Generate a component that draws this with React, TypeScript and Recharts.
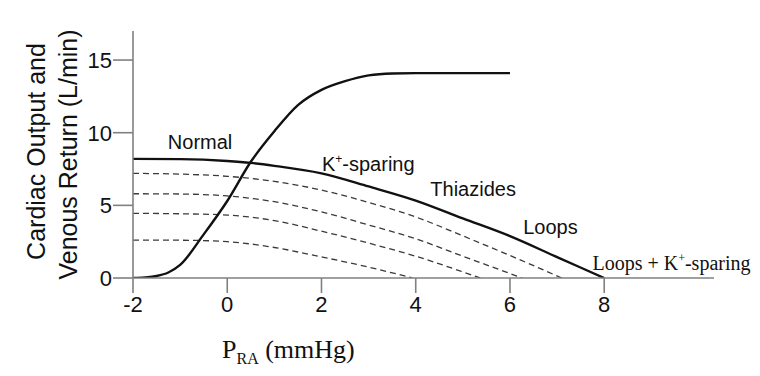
import { LineChart, Line, XAxis, YAxis, ReferenceDot, ReferenceLine } from "recharts";

// Right atrial pressure (mmHg) vs flow (L/min)
const cardiacOutput: [number, number][] = [
  [-2, 0], [-1.75, 0.04], [-1.5, 0.14], [-1.25, 0.38], [-1, 0.9], [-0.5, 3.0], [0, 5.3], [0.5, 8.0], [1, 10.1],
  [1.5, 11.9], [2, 12.95], [2.5, 13.55], [3, 13.95], [3.5, 14.08], [4, 14.1], [5, 14.1], [6, 14.1],
];
const normalReturn: [number, number][] = [
  [-2, 8.2], [-1, 8.18], [0, 8.05], [0.5, 7.92], [1, 7.72], [2, 7.2], [3, 6.3],
  [4, 5.33], [5, 4.1], [6, 2.88], [7, 1.44], [8, 0],
];
const kSparingReturn: [number, number][] = [
  [-2, 7.2], [-1, 7.15], [0, 7.0], [1, 6.65], [2, 6.05], [3, 5.2], [4, 4.2], [5, 2.9], [6, 1.55], [7.1, 0],
];
const thiazideReturn: [number, number][] = [
  [-2, 5.8], [-1, 5.78], [0, 5.65], [1, 5.25], [2, 4.55], [3, 3.65], [4, 2.7], [5, 1.5], [6.26, 0],
];
const loopReturn: [number, number][] = [
  [-2, 4.45], [-1, 4.42], [0, 4.33], [1, 3.95], [2, 3.22], [3, 2.4], [4, 1.5], [5, 0.42], [5.37, 0],
];
const loopKReturn: [number, number][] = [
  [-2, 2.6], [-1, 2.6], [0, 2.5], [1, 2.1], [2, 1.45], [3, 0.75], [3.93, 0],
];

const xTicks = [-2, 0, 2, 4, 6, 8];
const yTicks = [0, 5, 10, 15];

// curve annotations: [pressure, flow, text]
const sansNotes: [number, number, string][] = [
  [-1.26, 8.85, "Normal"],
  [4.31, 5.67, "Thiazides"],
  [6.28, 3.04, "Loops"],
];

const toPoints = (pts: [number, number][]) => pts.map(([x, y]) => ({ x, y }));

const sans = "'Liberation Sans', Arial, Helvetica, sans-serif";
const serif = "'Liberation Serif', 'Times New Roman', serif";
const axisGrey = "#808080";
const axisStroke = { stroke: axisGrey, strokeWidth: 1.6 };
const X_TICK_LEN = 15;
const X_TICK_GAP = 3;
// tick marks hang below the x axis by this much, in flow units
const X_TICK_DROP = 1.03;

const dashedProps = {
  type: "monotone" as const,
  dataKey: "y",
  stroke: "#3a3a3a",
  strokeWidth: 1.3,
  strokeDasharray: "6 4",
  dot: false,
  isAnimationActive: false,
};

const YTitle = (props: any) => {
  const { x, y, width, height } = props.viewBox;
  const right = x + width;
  const cy = y + height / 2;
  return (
    <g fontFamily={sans} fontSize={25} fill="#111">
      <text transform={`translate(${right - 88},${cy - 3}) rotate(-90)`} textAnchor="middle">
        Cardiac Output and
      </text>
      <text transform={`translate(${right - 56},${cy}) rotate(-90)`} textAnchor="middle">
        Venous Return (L/min)
      </text>
    </g>
  );
};

const XTitle = (props: any) => {
  const { x, y } = props.viewBox;
  return (
    <text x={x + 89} y={y + 80} fontFamily={serif} fontSize={26} fill="#111">
      P
      <tspan dy={6} fontSize={16}>RA</tspan>
      <tspan dy={-6}> (mmHg)</tspan>
    </text>
  );
};

const Note = ({ cx, cy, text }: any) => (
  <text x={cx} y={cy} fontFamily={sans} fontSize={20} fill="#111">
    {text}
  </text>
);

const KNote = ({ cx, cy, font, before }: any) => (
  <text x={cx} y={cy} fontFamily={font} fontSize={20} fill="#111">
    {before}K
    <tspan dy={-8} fontSize={12}>+</tspan>
    <tspan dy={8}>-sparing</tspan>
  </text>
);

export default function App() {
  return (
    <div style={{ position: "absolute", left: 0, top: 0, background: "#fff" }}>
      <LineChart width={760} height={376} margin={{ top: 31, right: 46, bottom: 68, left: 73 }}>
        <XAxis
          type="number"
          dataKey="x"
          domain={[-2, 10.33]}
          ticks={xTicks}
          allowDataOverflow
          height={30}
          tickSize={X_TICK_LEN}
          tickMargin={X_TICK_GAP}
          axisLine={axisStroke}
          tickLine={false}
          tick={{ fontFamily: sans, fontSize: 22, fill: "#111" }}
          label={{ content: XTitle }}
        />
        <YAxis
          type="number"
          domain={[0, 17]}
          ticks={yTicks}
          allowDataOverflow
          width={60}
          tickSize={20}
          tickMargin={1}
          axisLine={axisStroke}
          tickLine={axisStroke}
          tick={{ fontFamily: sans, fontSize: 22, fill: "#111" }}
          label={{ content: YTitle }}
        />
        {xTicks.map((t) => (
          <ReferenceLine
            key={`tick-${t}`}
            segment={[{ x: t, y: 0 }, { x: t, y: -X_TICK_DROP }]}
            ifOverflow="visible"
            stroke={axisGrey}
            strokeWidth={1.6}
          />
        ))}
        <Line data={toPoints(kSparingReturn)} {...dashedProps} />
        <Line data={toPoints(thiazideReturn)} {...dashedProps} />
        <Line data={toPoints(loopReturn)} {...dashedProps} />
        <Line data={toPoints(loopKReturn)} {...dashedProps} />
        <Line
          data={toPoints(normalReturn)}
          type="monotone"
          dataKey="y"
          stroke="#111"
          strokeWidth={2.4}
          dot={false}
          isAnimationActive={false}
        />
        <Line
          data={toPoints(cardiacOutput)}
          type="monotone"
          dataKey="y"
          stroke="#111"
          strokeWidth={2.4}
          dot={false}
          isAnimationActive={false}
        />
        {sansNotes.map(([x, y, text]) => (
          <ReferenceDot
            key={text}
            x={x}
            y={y}
            r={0}
            ifOverflow="visible"
            shape={(p: any) => <Note cx={p.cx} cy={p.cy} text={text} />}
          />
        ))}
        <ReferenceDot
          x={2.01}
          y={7.33}
          r={0}
          ifOverflow="visible"
          shape={(p: any) => <KNote cx={p.cx} cy={p.cy} font={sans} before="" />}
        />
        <ReferenceDot
          x={7.75}
          y={0.55}
          r={0}
          ifOverflow="visible"
          shape={(p: any) => <KNote cx={p.cx} cy={p.cy} font={serif} before="Loops + " />}
        />
      </LineChart>
    </div>
  );
}
